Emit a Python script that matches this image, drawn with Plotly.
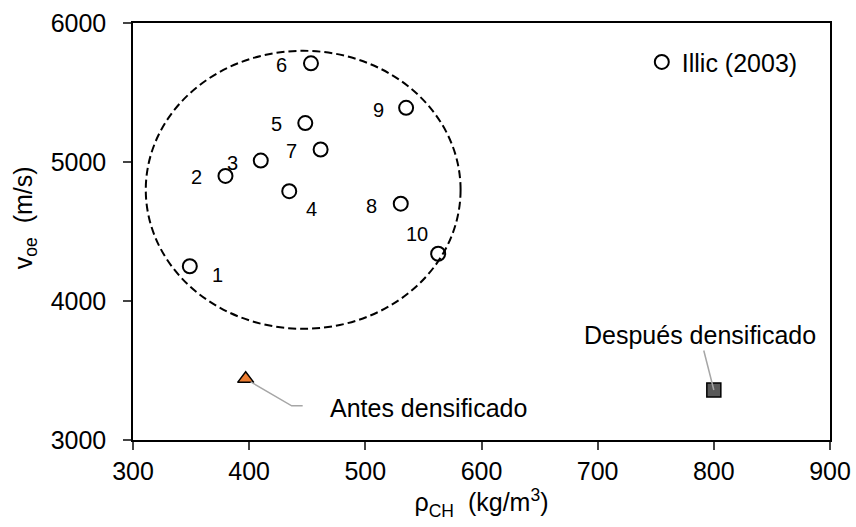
import plotly.graph_objects as go

# ---- data ----
point_labels = ["1", "2", "3", "4", "5", "6", "7", "8", "9", "10"]
density = [348.9, 379.6, 410.0, 434.5, 448.3, 453.2, 461.5, 530.5, 535.1, 562.7]
velocity = [4250, 4900, 5010, 4790, 5280, 5710, 5090, 4700, 5390, 4340]

antes_x = [397]
antes_y = [3440]
despues_x = [800]
despues_y = [3360]

ellipse_x = [311, 582]
ellipse_y = [3800, 5800]

x_ticks = [300, 400, 500, 600, 700, 800, 900]
y_ticks = [3000, 4000, 5000, 6000]

series_name = "Illic (2003)"
antes_text = "Antes densificado"
despues_text = "Después densificado"
x_title = "ρ<sub>CH</sub>  (kg/m<sup>3</sup>)"
y_title = "v<sub>oe</sub>  (m/s)"

# ---- styling ----
FONT = "Liberation Sans"
label_shift = [(28, -9), (-29, -1), (-28, -2), (22, -18), (-29, -1),
               (-29, -2), (-29, -2), (-29, -2), (-28, -2), (-21, 20)]

fig = go.Figure()

fig.add_trace(go.Scatter(
    x=density, y=velocity, mode="markers", name=series_name,
    marker=dict(symbol="circle-open", size=14, color="black", line=dict(width=2, color="black")),
    showlegend=True,
))
fig.add_trace(go.Scatter(
    x=antes_x, y=antes_y, mode="markers", showlegend=False,
    marker=dict(symbol="triangle-up", size=14, color="#ED7D31", line=dict(width=1.5, color="black")),
))
fig.add_trace(go.Scatter(
    x=despues_x, y=despues_y, mode="markers", showlegend=False,
    marker=dict(symbol="square", size=14, color="#595959", line=dict(width=1.5, color="black")),
))

annotations = []
for xv, yv, t, (dx, dy) in zip(density, velocity, point_labels, label_shift):
    annotations.append(dict(x=xv, y=yv, xref="x", yref="y", text=t, showarrow=False,
                            xshift=dx, yshift=dy, font=dict(size=20, color="black", family=FONT)))

annotations.append(dict(x=antes_x[0], y=antes_y[0], xref="x", yref="y", text=antes_text,
                        showarrow=False, xshift=183, yshift=-29,
                        font=dict(size=25, color="black", family=FONT)))
annotations.append(dict(x=despues_x[0], y=despues_y[0], xref="x", yref="y", text=despues_text,
                        showarrow=True, ax=-14, ay=-55, arrowhead=0, arrowwidth=1.5,
                        arrowcolor="#A6A6A6", standoff=0,
                        font=dict(size=25, color="black", family=FONT)))
# y-axis title (placed as annotation to match the reference's offset)
annotations.append(dict(x=0, y=0.532, xref="paper", yref="paper", text=y_title,
                        showarrow=False, textangle=-90, xanchor="center", yanchor="middle",
                        xshift=-108, font=dict(size=25, color="black", family=FONT)))

fig.add_shape(type="circle", xref="x", yref="y",
              x0=ellipse_x[0], x1=ellipse_x[1], y0=ellipse_y[0], y1=ellipse_y[1],
              line=dict(color="black", width=2, dash="8px,4px"))
fig.add_shape(type="path", xref="x", yref="y", xsizemode="pixel", ysizemode="pixel",
              xanchor=antes_x[0], yanchor=antes_y[0],
              path="M 5 -3 L 46 -27 L 57 -27",
              line=dict(color="#A6A6A6", width=1.5))

fig.update_layout(
    width=856, height=527,
    margin=dict(l=133, r=26, t=23, b=87),
    paper_bgcolor="white", plot_bgcolor="white",
    font=dict(family=FONT, size=25, color="black"),
    annotations=annotations,
    legend=dict(x=0.73, y=0.906, xanchor="left", yanchor="middle",
                bgcolor="rgba(0,0,0,0)", font=dict(size=25, family=FONT)),
    xaxis=dict(range=[300, 900], tickvals=x_ticks, ticks="outside", ticklen=8, tickwidth=1.5,
               showline=True, linecolor="black", linewidth=1.5, mirror=True, showgrid=False,
               zeroline=False, tickfont=dict(size=25),
               title=dict(text=x_title, font=dict(size=25), standoff=2),
               automargin=False),
    yaxis=dict(range=[3000, 6000], tickvals=y_ticks, ticks="outside", ticklen=8, tickwidth=1.5,
               showline=True, linecolor="black", linewidth=1.5, mirror=True, showgrid=False,
               zeroline=False, tickfont=dict(size=25), ticklabelstandoff=12,
               automargin=False),
)

fig.write_html("out.html")
